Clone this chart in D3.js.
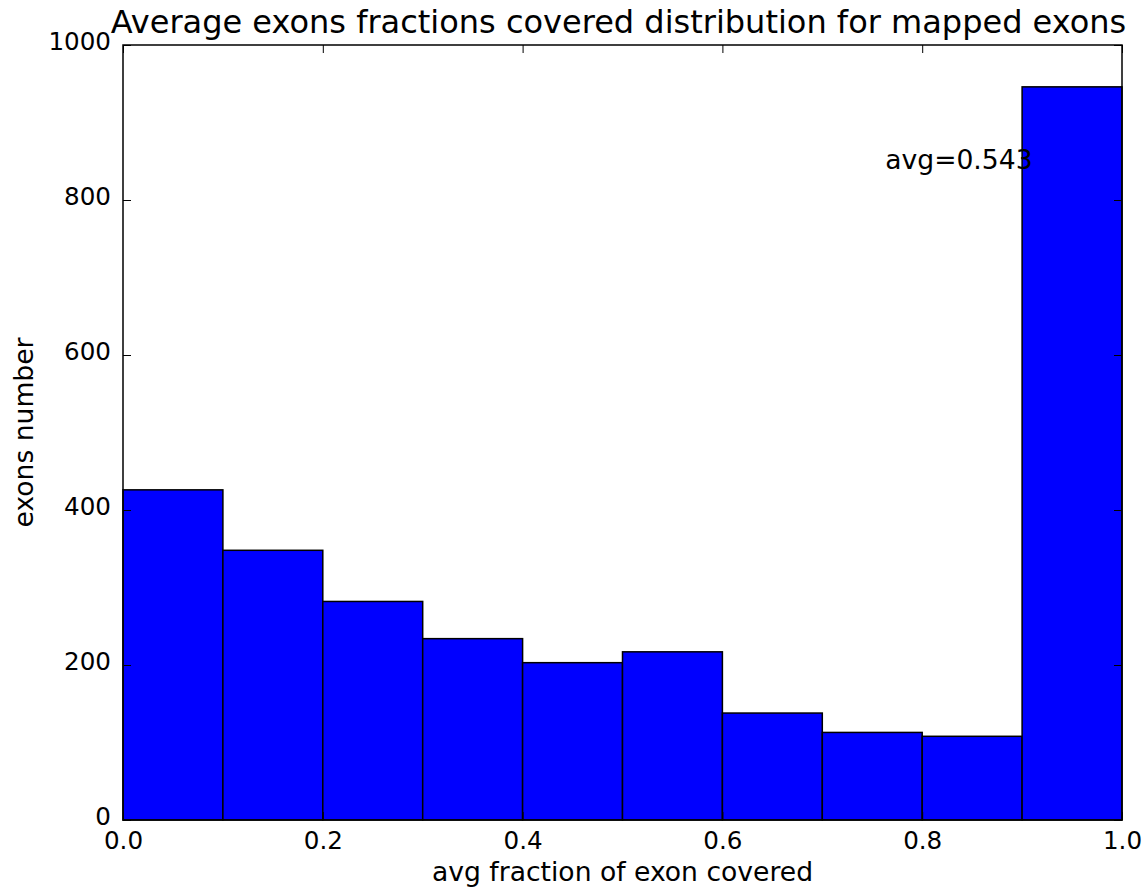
<!DOCTYPE html>
<html lang="en">
<head>
    <meta charset="UTF-8">
    <title>Exons histogram</title>
    <script src="https://cdn.jsdelivr.net/npm/d3@7"></script>
    <style>
        body { margin: 0; background: #fff; }
        text { font-family: "DejaVu Sans", sans-serif; fill: #000; }
        .bar { fill: #0000ff; stroke: #000; stroke-width: 1.5; }
    </style>
</head>
<body>
<svg width="1143" height="887"></svg>

<script>
    // histogram bins (left edges) and counts
    var binStarts = [0.0, 0.1, 0.2, 0.3, 0.4, 0.5, 0.6, 0.7, 0.8, 0.9];
    var binWidth = 0.1;
    var counts = [426, 348, 282, 234, 203, 217, 138, 113, 108, 946];
    var xTicks = [0.0, 0.2, 0.4, 0.6, 0.8, 1.0];
    var yTicks = [0, 200, 400, 600, 800, 1000];
    var avgLabel = "avg=0.543";
    var avgPos = [0.763, 840];

    var svg = d3.select("svg");
    var margin = {left: 123, top: 45, right: 1143 - 1122, bottom: 887 - 820};
    var width = 1122 - 123,
        height = 820 - 45;

    var x = d3.scaleLinear().domain([0, 1]).range([0, width]);
    var y = d3.scaleLinear().domain([0, 1000]).range([height, 0]);

    var g = svg.append("g").attr("transform", "translate(" + margin.left + "," + margin.top + ")");

    // bars
    g.selectAll("rect.bar")
        .data(counts)
        .enter()
        .append("rect")
        .attr("class", "bar")
        .attr("x", function (d, i) { return x(binStarts[i]); })
        .attr("y", function (d) { return y(d); })
        .attr("width", function (d, i) { return x(binStarts[i] + binWidth) - x(binStarts[i]); })
        .attr("height", function (d) { return y(0) - y(d); });

    // frame
    g.append("rect")
        .attr("width", width)
        .attr("height", height)
        .attr("fill", "none")
        .attr("stroke", "#000")
        .attr("stroke-width", 1.5);

    var tickLen = 8;

    // inward ticks, all four sides (matplotlib classic look)
    var xAxisBottom = d3.axisBottom(x).tickValues(xTicks).tickSize(-tickLen).tickPadding(12)
        .tickFormat(d3.format(".1f"));
    var xAxisTop = d3.axisTop(x).tickValues(xTicks).tickSize(-tickLen).tickFormat("");
    var yAxisLeft = d3.axisLeft(y).tickValues(yTicks).tickSize(-tickLen).tickPadding(12)
        .tickFormat(d3.format("d"));
    var yAxisRight = d3.axisRight(y).tickValues(yTicks).tickSize(-tickLen).tickFormat("");

    function style(sel) {
        sel.select(".domain").remove();
        sel.selectAll(".tick line").attr("stroke", "#000").attr("stroke-width", 1);
        sel.selectAll(".tick text").attr("font-size", 24.6).attr("fill", "#000")
            .style("font-family", "DejaVu Sans, sans-serif");
    }

    g.append("g").attr("transform", "translate(0," + height + ")").call(xAxisBottom).call(style);
    g.append("g").call(xAxisTop).call(style);
    g.append("g").call(yAxisLeft).call(style)
        .selectAll(".tick text").attr("dy", "0.2em");
    g.append("g").attr("transform", "translate(" + width + ",0)").call(yAxisRight).call(style);

    // annotation
    g.append("text")
        .attr("x", x(avgPos[0]))
        .attr("y", y(avgPos[1]))
        .attr("font-size", 26.6)
        .text(avgLabel);

    // title
    svg.append("text")
        .attr("x", margin.left + width / 2 - 4)
        .attr("y", 33)
        .attr("text-anchor", "middle")
        .attr("font-size", 32)
        .text("Average exons fractions covered distribution for mapped exons");

    // axis labels
    svg.append("text")
        .attr("x", margin.left + width / 2)
        .attr("y", 881)
        .attr("text-anchor", "middle")
        .attr("font-size", 26.6)
        .text("avg fraction of exon covered");

    svg.append("text")
        .attr("transform", "translate(33," + (margin.top + height / 2) + ") rotate(-90)")
        .attr("text-anchor", "middle")
        .attr("font-size", 26.6)
        .text("exons number");
</script>
</body>
</html>
